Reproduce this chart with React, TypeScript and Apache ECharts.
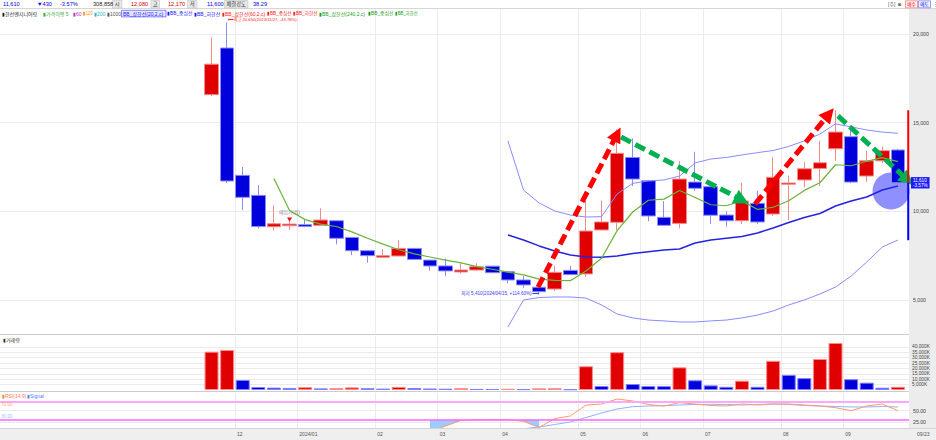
import React, { useEffect, useRef } from "react";
import * as echarts from "echarts";

// ---------- data (weekly candles, 한선엔지니어링) ----------
const weekDates = [
  "2023/11/20", "2023/11/27", "2023/12/04", "2023/12/11", "2023/12/18", "2023/12/25",
  "2024/01/01", "2024/01/08", "2024/01/15", "2024/01/22", "2024/01/29",
  "2024/02/05", "2024/02/13", "2024/02/19", "2024/02/26",
  "2024/03/04", "2024/03/11", "2024/03/18", "2024/03/25",
  "2024/04/01", "2024/04/08", "2024/04/15", "2024/04/22", "2024/04/29",
  "2024/05/06", "2024/05/13", "2024/05/20", "2024/05/27",
  "2024/06/03", "2024/06/10", "2024/06/17", "2024/06/24",
  "2024/07/01", "2024/07/08", "2024/07/15", "2024/07/22", "2024/07/29",
  "2024/08/05", "2024/08/12", "2024/08/19", "2024/08/26",
  "2024/09/02", "2024/09/09", "2024/09/16", "2024/09/23",
];
const opens = [16580, 19210, 12030, 10900, 9130, 9190, 9250, 9210, 9470, 8530, 7780, 7410, 7480, 7910, 7250, 6920, 6580, 6690, 6910, 6600, 6130, 5720, 5620, 6670, 6470, 8950, 9380, 13040, 11730, 9660, 9320, 11650, 11390, 9790, 9470, 10450, 9850, 11530, 11770, 12420, 13530, 14210, 11990, 12850, 13460];
const closes = [18300, 11710, 10790, 9140, 9300, 9280, 9150, 9510, 8480, 7780, 7500, 7500, 7910, 7290, 6920, 6640, 6690, 6880, 6540, 6130, 5850, 5470, 6560, 6430, 8890, 9400, 13270, 11820, 9740, 9210, 11820, 11300, 9780, 9470, 10580, 9400, 11920, 11600, 12400, 12740, 14470, 11650, 12850, 13420, 11610];
const highs = [19800, 20650, 12500, 11480, 10340, 9500, 9510, 10170, 9510, 8540, 7800, 7860, 8380, 7930, 7260, 7350, 7070, 7070, 6930, 6610, 6350, 5720, 6930, 6930, 10820, 10600, 14620, 14110, 11740, 10580, 12840, 13360, 11400, 10000, 11610, 11160, 13050, 12000, 12780, 13980, 15710, 14850, 13420, 13650, 13530];
const lows = [16500, 11600, 10070, 9040, 8950, 8950, 9100, 9200, 8140, 7540, 7100, 7400, 7470, 7280, 6650, 6350, 6470, 6650, 6530, 5940, 5690, 5410, 5520, 6420, 6310, 8930, 8950, 11430, 9440, 9200, 9040, 11160, 9290, 9140, 9280, 9280, 9740, 9510, 11350, 11430, 12850, 11580, 11650, 12710, 11580];
// weekly volume, thousand shares
const volumes = [35500, 37000, 9260, 2800, 2200, 1900, 2600, 1500, 1700, 2400, 1600, 1300, 2900, 1800, 1400, 1200, 1600, 1000, 900, 1100, 800, 1500, 1600, 650, 22000, 3700, 35000, 5500, 3700, 3600, 21000, 9000, 4300, 3000, 8600, 3000, 27000, 14000, 11000, 28700, 43500, 10000, 6800, 2100, 3000];
const ma5: (number | null)[] = [null, null, null, null, 11847, 10044, 9533, 9277, 9146, 8842, 8485, 8154, 7835, 7597, 7425, 7253, 7091, 6884, 6734, 6576, 6418, 6174, 6110, 6088, 6640, 7350, 8910, 9962, 10624, 10688, 11172, 10778, 10370, 10316, 10590, 10106, 10230, 10594, 11180, 11612, 12626, 12572, 12822, 13026, 12800];
const N19 = Array(19).fill(null);
const bbUpper: (number | null)[] = [...N19, 13970, 11200, 10470, 10020, 9790, 9680, 9700, 10980, 11580, 11710, 11770, 11990, 12730, 12950, 13040, 13180, 13310, 13430, 13660, 13970, 14360, 14930, 14760, 14590, 14470, 14400];
const bbMiddle: (number | null)[] = [...N19, 8670, 8380, 8050, 7760, 7540, 7430, 7410, 7480, 7620, 7720, 7820, 7880, 8210, 8380, 8480, 8580, 8780, 9060, 9370, 9650, 9880, 10300, 10580, 10810, 11200, 11430];
const bbLower: (number | null)[] = [...N19, 3480, 5000, 5140, 5170, 5170, 5110, 4720, 4210, 3990, 3870, 3820, 3760, 3760, 3820, 3870, 3990, 4150, 4380, 4720, 5000, 5340, 5730, 6350, 7140, 7990, 8380];
const N14 = Array(14).fill(null);
const rsi: (number | null)[] = [...N14, 3, 17, 29, 30.5, 31, 30.5, 27, 14, 33, 38.6, 62, 64.4, 75.2, 71, 63.4, 60, 67.2, 64.4, 61.2, 60.1, 64.4, 62.3, 64.4, 64.4, 62.3, 60.1, 56.5, 50, 60.1, 64.4, 50];
const rsiSignal: (number | null)[] = [...N14, 2, 4, 6, 8, 9, 10, 11, 15, 20.3, 25.6, 35.3, 45, 53.7, 58.6, 60.1, 60.8, 62.3, 63.4, 63.8, 63.4, 62.3, 63.4, 64.4, 63.4, 61.2, 60.1, 59, 58, 58, 59, 58];

const priceTicks = [5000, 10000, 15000, 20000];
const volumeTicks = [5000, 10000, 15000, 20000, 25000, 30000, 35000, 40000];
const rsiTicks = [25, 50];
const rsiLevels = [70, 30];

const currentPrice = 11610;
const highPoint = { idx: 1, price: 20650 };
const lowPoint = { idx: 21, price: 5410 };
const buyMark = { idx: 5, price: 9540 };
// trend arrows: [startIdx, startPrice, endIdx, endPrice]
const redArrows = [[20.93, 5730, 26.0, 14350], [34.84, 10410, 39.58, 15490]];
const greenArrows = [[26.25, 14190, 34.0, 10640], [40.16, 15380, 44.62, 11770]];
const highlight = [43.56, 11150];
const rangeBar = { idx: 44.66, top: 15700, mid: 11610, bottom: 8370 };

// ---------- layout ----------
const X_MIN = -13.56;
const X_MAX = 44.71;
const P_MIN = 3139;
const P_MAX = 21410;
const FONT = '"Liberation Sans", "Noto Sans CJK KR", sans-serif';
const RED = "#e00000";
const BLUE = "#0000dd";

// month boundaries for the time axis
const monthTicks: number[] = [];
const monthLabels: Record<string, string> = {};
for (let i = 1; i < weekDates.length; i++) {
  const [y, m] = weekDates[i].split("/");
  const pm = weekDates[i - 1].split("/")[1];
  if (m !== pm) {
    const t = i - 0.5;
    monthTicks.push(t);
    monthLabels[String(t)] = m === "01" ? `${y}/${m}` : m;
  }
}

const pairs = (arr: (number | null)[]) =>
  arr.map((v, i) => (v == null ? null : [i, v])).filter((d) => d !== null) as number[][];

let measureCtx: CanvasRenderingContext2D | null = null;
function textWidth(s: string, size: number) {
  if (!measureCtx && typeof document !== "undefined") measureCtx = document.createElement("canvas").getContext("2d");
  if (!measureCtx) return s.length * size * 0.6;
  measureCtx.font = `${size}px ${FONT}`;
  return measureCtx.measureText(s).width;
}

const txt = (x: number, y: number, text: string, fill: string, fontSize = 5.5, extra: any = {}, scaleX = 1) => ({
  type: "text",
  x,
  y,
  scaleX,
  silent: true,
  z: 20,
  style: { text, fill, fontSize, fontFamily: FONT, verticalAlign: "middle", align: "left", ...extra },
});
const fitTxt = (x: number, y: number, text: string, fill: string, fontSize: number, maxW: number) => {
  const w = textWidth(text, fontSize);
  return txt(x, y, text, fill, fontSize, {}, Math.min(1, maxW / w));
};
const box = (x: number, y: number, w: number, h: number, fill: string, stroke: string) => ({
  type: "rect",
  silent: true,
  z: 19,
  shape: { x, y, width: w, height: h },
  style: { fill, stroke, lineWidth: 0.6 },
});
const hline = (x1: number, x2: number, y: number, stroke: string, z = 15) => ({
  type: "line",
  silent: true,
  z,
  shape: { x1, y1: y, x2, y2: y },
  style: { stroke, lineWidth: 1 },
});

function buildOption(): any {
  const headerVals: [number, string, string][] = [
    [3, "11,610", BLUE], [37, "▼430", BLUE], [60, "-3.57%", BLUE], [93, "308,858", "#222"],
    [131, "12,080", RED], [168, "12,170", RED], [207, "11,600", BLUE], [253, "38.29", BLUE],
  ];
  const headerBoxes: [number, number, string][] = [
    [112.5, 9.5, "시"], [151, 8.5, "고"], [187.5, 9.5, "저"], [224.5, 23.5, "체결강도"],
  ];
  const legendItems: [number, string, string][] = [
    [2, "▮한선엔지니어링", "#222"],
    [43, "▮가격이평 5", "#3aa83a"],
    [73, "▮60", "#c030c0"],
    [83, "▮120", "#ff8a00"],
    [94, "▮200", "#20b8d0"],
    [107, "▮1000", "#555"],
    [123, "BB_상한선(20,2,c)", "#2020ff"],
    [167, "▮BB_중심선", "#2020ff"],
    [194, "▮BB_하한선", "#2020ff"],
    [222, "▮BB_상한선(60,2,c)", "#ff2020"],
    [267, "▮BB_중심선", "#ff2020"],
    [293, "▮BB_하한선", "#ff2020"],
    [319, "▮BB_상한선(240,2,c)", "#20a020"],
    [368, "▮BB_중심선", "#20a020"],
    [395, "▮BB_하한선", "#20a020"],
  ];
  const legendEnd = 419;

  const graphic: any[] = [
    // right axis panel and bottom axis strip
    { type: "rect", silent: true, z: -5, shape: { x: 909, y: 9, width: 27, height: 431 }, style: { fill: "#ececec" } },
    { type: "rect", silent: true, z: -5, shape: { x: 0, y: 428, width: 936, height: 12 }, style: { fill: "#efefef" } },
    hline(0, 936, 428.5, "#d4d4d4"),
    hline(0, 936, 8.5, "#d6d6d6"),
    hline(0, 909, 334.5, "#cccccc"),
    hline(0, 909, 391.5, "#cccccc"),
    ...headerBoxes.map(([x, w]) => box(x, 0.5, w, 7.5, "#e8e8e8", "#c4c4c4")),
    ...headerBoxes.map(([x, w, s]) => txt(x + w / 2, 4.3, s, "#333", 5.3, { align: "center" })),
    ...headerVals.map(([x, s, c]) => txt(x, 4.3, s, c, 5.6)),
    txt(888, 4.3, "[주]", "#555", 5),
    txt(898, 4.3, "◙", "#666", 5),
    box(905.5, 0.8, 12, 7, "#fff0f0", "#ff6060"),
    txt(911.5, 4.3, "매수", RED, 4.6, { align: "center" }),
    box(918.5, 0.8, 12, 7, "#eef0ff", "#6060ff"),
    txt(924.5, 4.3, "매도", BLUE, 4.6, { align: "center" }),
    txt(932.5, 4.3, "⋮", "#777", 5),
    box(121.5, 10.3, 44.5, 6.6, "#e6e8ff", "#3a3aff"),
    ...legendItems.map(([x, s, c], i) => {
      const next = i + 1 < legendItems.length ? legendItems[i + 1][0] : legendEnd;
      return fitTxt(x, 13.6, s, c, 5, next - x - 1.5);
    }),
    txt(3, 340, "▮거래량", "#333", 5),
    txt(2, 395.5, "▮RSI(14,9)", "#ff7a50", 5),
    txt(27, 395.5, "▮Signal", "#5a7dff", 5),
    txt(917, 434.3, weekDates[weekDates.length - 1].slice(5), "#555", 5),
  ];

  const volData = volumes.map((v, i) => {
    const up = i === 0 || v >= volumes[i - 1];
    return {
      value: [i, v],
      itemStyle: { color: up ? RED : BLUE, borderColor: up ? "#ff8a8a" : "#8080ff", borderWidth: 1 },
    };
  });

  const arrowLine = (a: number[], color: string) => [
    { coord: [a[0], a[1]], lineStyle: { color }, itemStyle: { color } },
    { coord: [a[2], a[3]], lineStyle: { color }, itemStyle: { color } },
  ];

  const axisLabelBase = { fontSize: 5.2, color: "#444", fontFamily: FONT };

  return {
    animation: false,
    backgroundColor: "#ffffff",
    grid: [
      { left: 0, right: 27, top: 9, height: 324 },
      { left: 0, right: 27, top: 336, height: 54 },
      { left: 0, right: 27, top: 393, height: 35 },
    ],
    xAxis: [0, 1, 2].map((k) => ({
      type: "value",
      gridIndex: k,
      min: X_MIN,
      max: X_MAX,
      axisLine: { show: false },
      axisTick: { show: false, customValues: monthTicks },
      axisLabel:
        k === 2
          ? {
              show: true,
              customValues: monthTicks,
              formatter: (v: number) => monthLabels[String(v)] ?? "",
              align: "left",
              margin: 3,
              padding: [0, 0, 0, 2],
              ...axisLabelBase,
              fontSize: 5,
              color: "#555",
            }
          : { show: false },
      splitLine: { show: true, lineStyle: { color: "#ebebeb", width: 1 } },
    })),
    yAxis: [
      {
        type: "value",
        gridIndex: 0,
        position: "right",
        min: P_MIN,
        max: P_MAX,
        axisLine: { show: false },
        axisTick: { show: false, customValues: priceTicks },
        axisLabel: { customValues: priceTicks, formatter: (v: number) => v.toLocaleString("en-US"), margin: 4, ...axisLabelBase },
        splitLine: { show: true, lineStyle: { color: "#ebebeb" } },
      },
      {
        type: "value",
        gridIndex: 1,
        position: "right",
        min: 0,
        max: 50000,
        axisLine: { show: false },
        axisTick: { show: false, customValues: volumeTicks },
        axisLabel: { customValues: volumeTicks, formatter: (v: number) => v.toLocaleString("en-US") + "K", margin: 3, ...axisLabelBase, fontSize: 4.8 },
        splitLine: { show: true, lineStyle: { color: "#ebebeb" } },
      },
      {
        type: "value",
        gridIndex: 2,
        position: "right",
        min: 12.7,
        max: 88.1,
        axisLine: { show: false },
        axisTick: { show: false, customValues: rsiTicks },
        axisLabel: { customValues: rsiTicks, formatter: (v: number) => v.toFixed(2), margin: 4, ...axisLabelBase },
        splitLine: { show: true, lineStyle: { color: "#ebebeb" } },
      },
    ],
    graphic,
    series: [
      {
        name: "highlight",
        type: "scatter",
        xAxisIndex: 0,
        yAxisIndex: 0,
        z: 1,
        silent: true,
        symbolSize: 37,
        data: [highlight],
        itemStyle: { color: "rgba(0,0,255,0.55)" },
      },
      {
        name: "price",
        type: "candlestick",
        xAxisIndex: 0,
        yAxisIndex: 0,
        z: 3,
        barWidth: 14,
        data: weekDates.map((_, i) => [i, opens[i], closes[i], lows[i], highs[i]]),
        itemStyle: { color: RED, color0: BLUE, borderColor: "#f28c8c", borderColor0: "#8c8cf5", borderWidth: 1 },
        markPoint: {
          silent: true,
          data: [
            {
              coord: [highPoint.idx, highPoint.price],
              symbol: "rect",
              symbolSize: [1, 1],
              itemStyle: { color: "rgba(0,0,0,0)" },
              label: {
                show: true,
                position: "right",
                distance: 0,
                offset: [0, -2.5],
                formatter: "⟵최고 20,650(2023/11/27, -43.78%)",
                color: "#ff2020",
                fontSize: 4.2,
                fontFamily: FONT,
              },
            },
            {
              coord: [lowPoint.idx, lowPoint.price],
              symbol: "rect",
              symbolSize: [1, 1],
              itemStyle: { color: "rgba(0,0,0,0)" },
              label: {
                show: true,
                position: "left",
                distance: 0,
                offset: [0, 1],
                formatter: "최저 5,410(2024/04/15, +114.60%)⟶",
                color: "#3a3aff",
                fontSize: 4.6,
                fontFamily: FONT,
              },
            },
            {
              coord: [buyMark.idx, buyMark.price],
              symbol: "triangle",
              symbolRotate: 180,
              symbolSize: [5, 4],
              itemStyle: { color: "#ff0000" },
              label: {
                show: true,
                position: "top",
                distance: 3,
                formatter: "매입가(원)",
                color: "#888",
                fontSize: 4.8,
                fontFamily: FONT,
              },
            },
          ],
        },
        markLine: {
          silent: true,
          symbol: "none",
          data: [
            {
              yAxis: currentPrice,
              lineStyle: { width: 0, color: "rgba(0,0,0,0)" },
              label: {
                show: true,
                position: "end",
                distance: 2,
                formatter: "11,610\n-3.57%",
                backgroundColor: "#1a1aff",
                color: "#ffffff",
                opacity: 1,
                fontSize: 4.6,
                lineHeight: 5.2,
                padding: [0.5, 2, 0.5, 2],
                fontFamily: FONT,
              },
            },
          ],
        },
      },
      {
        name: "BB상한",
        type: "line",
        xAxisIndex: 0,
        yAxisIndex: 0,
        z: 4,
        symbol: "none",
        data: pairs(bbUpper),
        lineStyle: { color: "#8a8aff", width: 1 },
      },
      {
        name: "BB중심",
        type: "line",
        xAxisIndex: 0,
        yAxisIndex: 0,
        z: 4,
        symbol: "none",
        data: pairs(bbMiddle),
        lineStyle: { color: "#2323e0", width: 1.5 },
      },
      {
        name: "BB하한",
        type: "line",
        xAxisIndex: 0,
        yAxisIndex: 0,
        z: 4,
        symbol: "none",
        data: pairs(bbLower),
        lineStyle: { color: "#8a8aff", width: 1 },
      },
      {
        name: "MA5",
        type: "line",
        xAxisIndex: 0,
        yAxisIndex: 0,
        z: 4,
        symbol: "none",
        data: pairs(ma5),
        lineStyle: { color: "#6bb23a", width: 1.2 },
      },
      {
        name: "rangeUp",
        type: "line",
        xAxisIndex: 0,
        yAxisIndex: 0,
        z: 5,
        symbol: "none",
        data: [[rangeBar.idx, rangeBar.top], [rangeBar.idx, rangeBar.mid]],
        lineStyle: { color: "#ff0000", width: 2 },
      },
      {
        name: "rangeDown",
        type: "line",
        xAxisIndex: 0,
        yAxisIndex: 0,
        z: 5,
        symbol: "none",
        data: [[rangeBar.idx, rangeBar.mid], [rangeBar.idx, rangeBar.bottom]],
        lineStyle: { color: "#0000ff", width: 2 },
      },
      {
        name: "arrows",
        type: "line",
        xAxisIndex: 0,
        yAxisIndex: 0,
        z: 8,
        data: [],
        markLine: {
          silent: true,
          symbol: ["none", "triangle"],
          symbolSize: 15,
          label: { show: false },
          lineStyle: { width: 5, type: [11, 5], opacity: 1 },
          data: [
            ...redArrows.map((a) => arrowLine(a, "#ff0000")),
            ...greenArrows.map((a) => arrowLine(a, "#00b050")),
          ],
        },
      },
      {
        name: "거래량",
        type: "bar",
        xAxisIndex: 1,
        yAxisIndex: 1,
        barWidth: 14,
        data: volData,
      },
      {
        name: "RSIfill",
        type: "line",
        xAxisIndex: 2,
        yAxisIndex: 2,
        z: 2,
        symbol: "none",
        silent: true,
        data: pairs(rsi).filter((d) => d[0] <= lowPoint.idx),
        lineStyle: { width: 0 },
        areaStyle: { origin: 30, color: "#99ccff", opacity: 1 },
      },
      {
        name: "RSI",
        type: "line",
        xAxisIndex: 2,
        yAxisIndex: 2,
        z: 4,
        symbol: "none",
        data: pairs(rsi),
        lineStyle: { color: "#ff9a6a", width: 1 },
        markLine: {
          silent: true,
          symbol: "none",
          z: 5,
          data: rsiLevels.map((lv, k) => ({
            yAxis: lv,
            lineStyle: { color: k === 0 ? "#ffa6ff" : "#ff66ff", width: k === 0 ? 2 : 1.5, type: "solid" },
            label: {
              show: true,
              position: k === 0 ? "insideStartBottom" : "insideStartTop",
              distance: 1,
              formatter: lv.toFixed(2),
              color: k === 0 ? "#ffa080" : "#9ec4ff",
              fontSize: 4.6,
              fontFamily: FONT,
            },
          })),
        },
      },
      {
        name: "Signal",
        type: "line",
        xAxisIndex: 2,
        yAxisIndex: 2,
        z: 3,
        symbol: "none",
        data: pairs(rsiSignal),
        lineStyle: { color: "#8fb2ff", width: 1 },
      },
    ],
  };
}

export default function App() {
  const ref = useRef<HTMLDivElement>(null);
  useEffect(() => {
    if (!ref.current) return;
    const chart = echarts.init(ref.current, undefined, { renderer: "svg" });
    chart.setOption(buildOption());
    return () => chart.dispose();
  }, []);
  return (
    <div
      ref={ref}
      style={{ position: "fixed", left: 0, top: 0, width: 936, height: 440, background: "#ffffff" }}
    />
  );
}
